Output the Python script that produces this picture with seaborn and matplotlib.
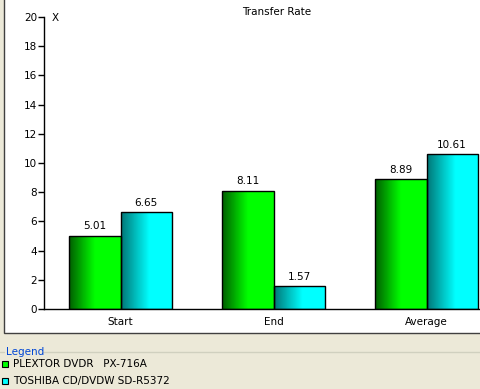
import numpy as np
import pandas as pd
import matplotlib
matplotlib.use("Agg")
import matplotlib.pyplot as plt
from matplotlib.patches import Rectangle
from matplotlib.lines import Line2D
from matplotlib.colors import LinearSegmentedColormap
import seaborn as sns

# Data
categories = ["Start", "End", "Average"]
drives = ["PLEXTOR DVDR   PX-716A", "TOSHIBA CD/DVDW SD-R5372"]
plextor = [5.01, 8.11, 8.89]
toshiba = [6.65, 1.57, 10.61]
yticks = [0, 2, 4, 6, 8, 10, 12, 14, 16, 18, 20]

df = pd.DataFrame({
    "cat": categories * 2,
    "drive": [drives[0]] * 3 + [drives[1]] * 3,
    "rate": plextor + toshiba,
})

sns.set_style("white")
plt.rcParams["font.family"] = ["DejaVu Sans"]
plt.rcParams["font.size"] = 7.5
plt.rcParams["text.color"] = "black"
plt.rcParams["xtick.color"] = "black"
plt.rcParams["ytick.color"] = "black"

W, H = 480, 389
fig = plt.figure(figsize=(W / 100, H / 100), dpi=100)
fig.patch.set_facecolor("#ECE9D8")

# white chart panel with dark border
fig.patches.append(Rectangle((3.5 / W, 1 - 332.5 / H), 1.0, 1.0, transform=fig.transFigure,
                             facecolor="white", edgecolor="#404040", linewidth=1, zorder=-5))

ax = fig.add_axes([44 / W, 1 - 309 / H, (W - 44) / W, (309 - 17) / H])
ax.set_facecolor("none")

sns.barplot(data=df, x="cat", y="rate", hue="drive", order=categories, hue_order=drives,
            palette=["#00FF00", "#00FFFF"], width=0.667, edgecolor="black", linewidth=1,
            legend=False, ax=ax, zorder=2)

xlim = (-0.5, -0.5 + (W - 44) / 153)

# gradient fill on bars
cmaps = [
    LinearSegmentedColormap.from_list("g", [(0, "#006000"), (0.5, "#00FF00"), (1, "#00FF00")]),
    LinearSegmentedColormap.from_list("c", [(0, "#007878"), (0.55, "#00FFFF"), (1, "#00FFFF")]),
]
grad = np.linspace(0, 1, 64).reshape(1, -1)
bars = list(ax.patches)
for i, p in enumerate(bars):
    cm = cmaps[i // 3]
    x0, y0 = p.get_x(), p.get_y()
    w, h = p.get_width(), p.get_height()
    im = ax.imshow(grad, cmap=cm, aspect="auto", extent=(x0, x0 + w, y0, y0 + h),
                   zorder=2.5, interpolation="bilinear")
    im.set_clip_path(p)
    p.set_facecolor("none")
    p.set_zorder(3)
    ax.text(x0 + w / 2, y0 + h + 0.3, f"{h:.2f}", ha="center", va="bottom", fontsize=7.5, zorder=4)

ax.set_xlim(*xlim)
ax.set_ylim(0, 20)

ax.set_yticks(yticks)
ax.set_xticks(range(3))
ax.set_xticklabels(categories)
ax.tick_params(axis="y", left=True, length=4, width=1, color="black", pad=1, labelsize=7.5)
ax.tick_params(axis="x", bottom=False, length=0, pad=6, labelsize=7.5)
ax.set_xlabel("")
ax.set_ylabel("")
for s in ["top", "right"]:
    ax.spines[s].set_visible(False)
for s in ["left", "bottom"]:
    ax.spines[s].set_color("black")
    ax.spines[s].set_linewidth(1)

fig.text(277 / W, 1 - 12 / H, "Transfer Rate", ha="center", va="center", fontsize=7.5)
fig.text(55 / W, 1 - 18 / H, "X", ha="center", va="center", fontsize=7.5)

# legend group box
fig.lines.append(Line2D([0, 4 / W], [1 - 352 / H] * 2, transform=fig.transFigure,
                        color="#D0D0BF", linewidth=1))
fig.lines.append(Line2D([43 / W, 1], [1 - 352 / H] * 2, transform=fig.transFigure,
                        color="#D0D0BF", linewidth=1))
fig.text(6 / W, 1 - 352 / H, "Legend", color="#0046D5", ha="left", va="center", fontsize=7.5)

legend_colors = ["#00FF00", "#00FFFF"]
for i, (name, col) in enumerate(zip(drives, legend_colors)):
    yc = 364 + i * 17
    fig.patches.append(Rectangle((2 / W, 1 - (yc + 3) / H), 6 / W, 6 / H, transform=fig.transFigure,
                                 facecolor=col, edgecolor="black", linewidth=0.8))
    fig.text(13 / W, 1 - yc / H, name, ha="left", va="center", fontsize=7.5)

fig.savefig("out.png", dpi=100, facecolor=fig.get_facecolor())
